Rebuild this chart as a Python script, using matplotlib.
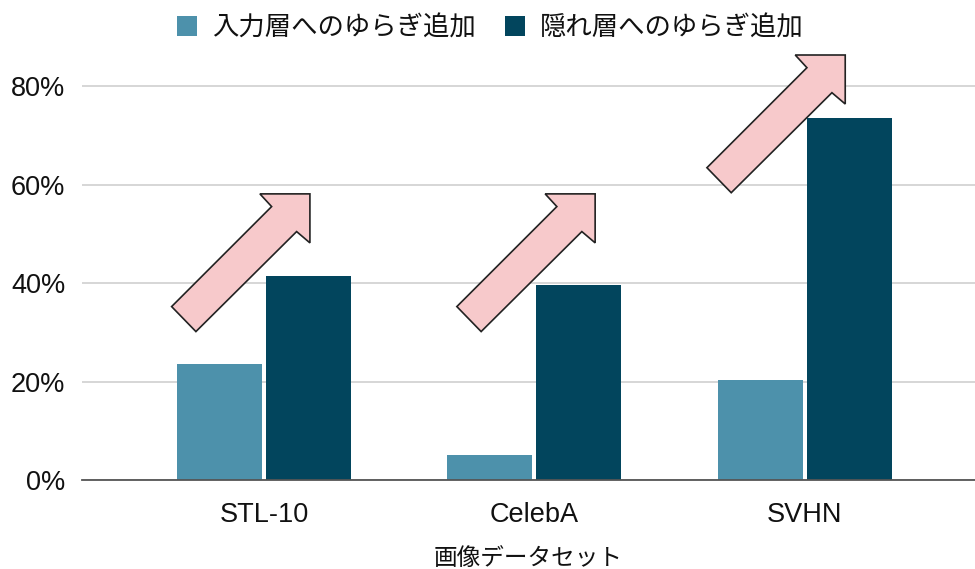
import numpy as np
import matplotlib.pyplot as plt
import matplotlib.transforms as mtransforms
from matplotlib.patches import Polygon

plt.rcParams['font.family'] = ['Liberation Sans', 'Noto Sans CJK JP', 'DejaVu Sans']

# data
datasets = ['STL-10', 'CelebA', 'SVHN']
input_noise = [23.6, 5.1, 20.3]     # 入力層へのゆらぎ追加 (%)
hidden_noise = [41.4, 39.6, 73.5]   # 隠れ層へのゆらぎ追加 (%)
series_names = ['入力層へのゆらぎ追加', '隠れ層へのゆらぎ追加']
yticks = [0, 20, 40, 60, 80]

# arrow tips (data coords) for the "up" arrows
arrow_tips = [(0.17, 58.1), (1.225, 58.1), (2.15, 86.3)]

c_light = '#4d91ab'
c_dark = '#02455d'
txt = '#111111'

fig = plt.figure(figsize=(9.75, 5.69), dpi=100)
ax = fig.add_axes([82/975, 89/569, 893/975, 425/569])

x = np.arange(len(datasets))
w = 0.314
gap = 0.008
ax.bar(x - w/2 - gap, input_noise, w, color=c_light, label=series_names[0], zorder=3)
ax.bar(x + w/2 + gap, hidden_noise, w, color=c_dark, label=series_names[1], zorder=3)

ax.set_xlim(-0.673, 2.63)
ax.set_ylim(0, 86.3)
ax.set_yticks(yticks)
ax.set_yticklabels([f'{v}%' for v in yticks], fontsize=19.5, color=txt)
ax.set_xticks(x)
ax.set_xticklabels(datasets, fontsize=19.5, color=txt)
ax.tick_params(axis='both', length=0)
ax.tick_params(axis='x', pad=16)
ax.tick_params(axis='y', pad=12)
ax.grid(axis='y', color='#d0d0d0', linewidth=1.2, zorder=0)
for s in ['top', 'right', 'left']:
    ax.spines[s].set_visible(False)
ax.spines['bottom'].set_color('#555555')
ax.spines['bottom'].set_linewidth(1.3)
ax.spines['bottom'].set_zorder(4)
ax.set_xlabel('画像データセット', fontsize=17, color=txt, labelpad=14)

# block arrows, shape in pixels relative to the tip
shape_px = np.array([(0, 0), (-50, 0), (-38.3, -12.7), (-138.3, -112.7),
                     (-114, -137.7), (-13.3, -37.7), (0, -49)]) / 100.0
for tx, ty in arrow_tips:
    tr = fig.dpi_scale_trans + mtransforms.ScaledTranslation(tx, ty, ax.transData)
    ax.add_patch(Polygon(shape_px, closed=True, transform=tr, facecolor='#f7c9cb',
                         edgecolor='#222222', linewidth=1.2, zorder=5, clip_on=False))

leg = fig.legend(loc='center', bbox_to_anchor=(490/975, 1 - 28/569), ncol=2, frameon=False,
                 fontsize=19, handlelength=0.78, handleheight=0.78, handletextpad=0.55,
                 columnspacing=1.1)
for t in leg.get_texts():
    t.set_color(txt)

fig.savefig('out.png', dpi=100)
